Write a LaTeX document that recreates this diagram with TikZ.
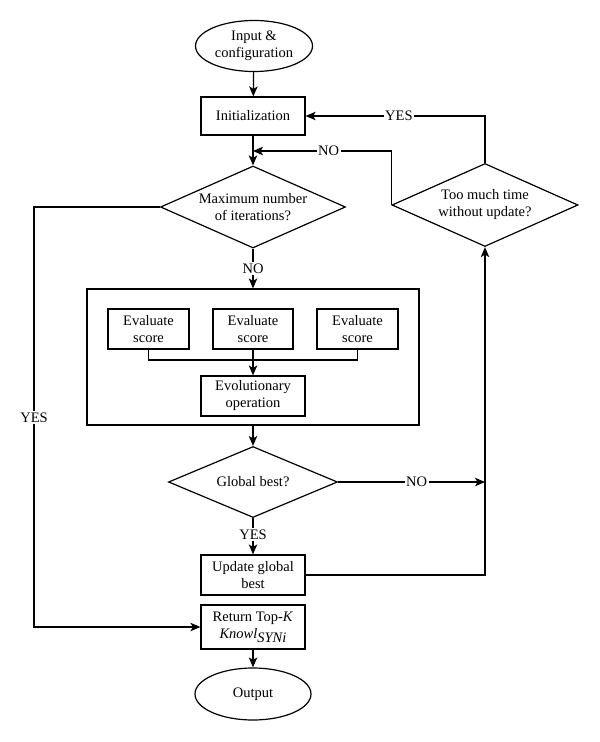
\documentclass[tikz,border=0pt]{standalone}
\usepackage{fontspec}
\setmainfont{Liberation Serif}
\usetikzlibrary{shapes.geometric,arrows.meta}
\begin{document}
\begin{tikzpicture}[x=1pt,y=-1pt,
  font=\fontsize{14.5}{17}\selectfont,
  line width=1.2pt,
  box/.style={draw, rectangle, align=center, inner sep=0pt},
  term/.style={draw, ellipse, align=center, inner sep=0pt},
  dec/.style={draw, diamond, align=center, inner sep=0pt},
  arr/.style={-{Stealth[length=10pt,width=8.5pt,inset=2.5pt]}},
  lab/.style={fill=white, inner sep=1.5pt}]
\useasboundingbox (0,0) rectangle (600,742);
\fill[white] (0,0) rectangle (600,742);

\node[term, minimum width=117, minimum height=51] (in) at (254,46) {Input \&\\configuration};
\node[box, minimum width=104, minimum height=38] (init) at (253,116) {Initialization};
\node[dec, aspect=2.26, minimum width=185, minimum height=82] (d1) at (253,207) {Maximum number\\of iterations?};
\node[dec, aspect=2.24, minimum width=186, minimum height=83] (d2) at (485,205) {Too much time\\without update?};
\node[box, minimum width=332, minimum height=136] (big) at (253,357) {};
\node[box, minimum width=81, minimum height=40] (e1) at (148.5,329) {Evaluate\\score};
\node[box, minimum width=80, minimum height=40] (e2) at (253,329) {Evaluate\\score};
\node[box, minimum width=81, minimum height=40] (e3) at (357.5,329) {Evaluate\\score};
\node[box, minimum width=104, minimum height=40] (evo) at (253,396) {Evolutionary\\operation};
\node[dec, aspect=2.38, minimum width=169, minimum height=71] (d3) at (253,482) {Global best?};
\node[box, minimum width=104, minimum height=40] (upd) at (253,575) {Update global\\best};
\node[box, minimum width=104, minimum height=44] (ret) at (253,627) {Return Top-\textit{K}\\\textit{Knowl}\raisebox{-0.6ex}{\textit{SYNi}}};
\node[term, minimum width=116, minimum height=52] (out) at (253,694) {Output};

\coordinate (j1) at (253,151);
\coordinate (j2) at (485,482);
\coordinate (m) at (253,360);
\coordinate (lc) at (34,207);

\draw[arr] (in) -- (init);
\draw[arr] (init) -- (d1);
\draw[arr] (d1.south) -- node[lab]{NO} (big.north);
\draw (e1.south) |- (m) -| (e3.south);
\draw[arr] (e2.south) -- (evo.north);
\draw[arr] (big.south) -- (d3.north);
\draw[arr] (d3.south) -- node[lab,pos=0.45]{YES} (upd.north);
\draw[arr] (d3.east) -- node[lab,pos=0.534]{NO} (j2);
\draw[arr] (upd.east) -| (d2.south);
\draw[arr] (d2.north) |- node[lab,pos=0.74]{YES} (init.east);
\draw[arr] (d2.west) |- node[lab,pos=0.727]{NO} (j1);
\draw[arr] (d1.west) -- (lc) |- node[lab,pos=0.251]{YES} (ret.west);
\draw[arr] (ret) -- (out);
\end{tikzpicture}
\end{document}
